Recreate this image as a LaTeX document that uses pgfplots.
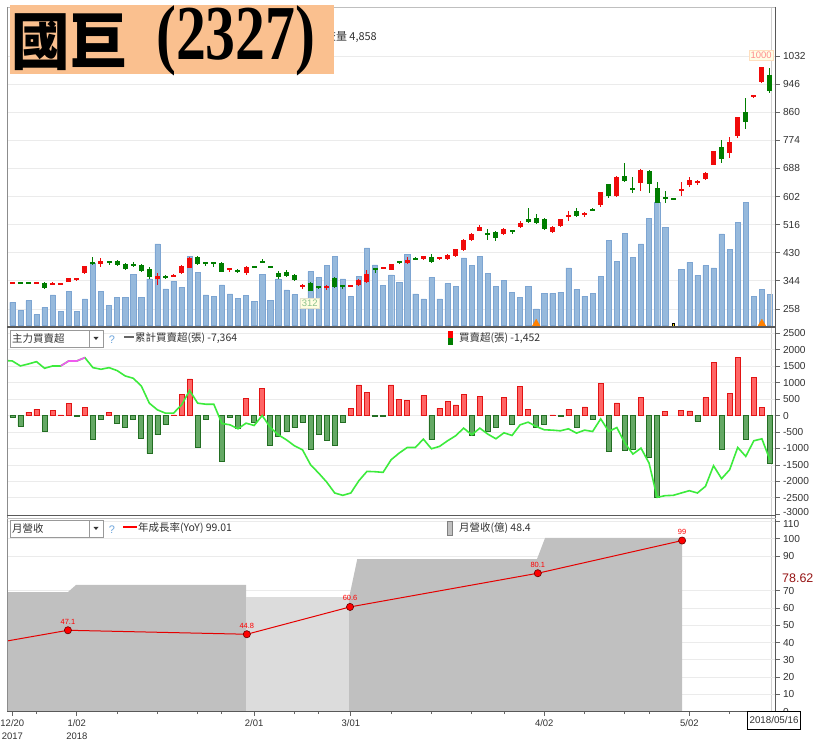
\documentclass[border=0pt]{standalone}
\usepackage{fontspec}
\setmainfont{Liberation Sans}
\newfontfamily\cjk{Noto Sans CJK TC}
\newfontfamily\serifb{Liberation Serif}
\usepackage{graphicx}
\usepackage{pgfplots}
\pgfplotsset{compat=1.18}
\usepackage{pgfplotstable}

\definecolor{upred}{RGB}{240,10,10}
\definecolor{dngreen}{RGB}{0,125,0}
\definecolor{volfill}{RGB}{150,185,220}
\definecolor{voldraw}{RGB}{125,165,210}
\definecolor{barred}{RGB}{255,85,85}
\definecolor{barredd}{RGB}{225,20,20}
\definecolor{bargreen}{RGB}{85,160,85}
\definecolor{bargreend}{RGB}{35,110,35}
\definecolor{cumgreen}{RGB}{60,235,60}
\definecolor{cumpink}{RGB}{240,90,240}
\definecolor{areadark}{RGB}{192,192,192}
\definecolor{arealight}{RGB}{220,220,220}
\definecolor{peach}{RGB}{250,192,143}
\definecolor{txt}{RGB}{50,50,50}
\definecolor{qblue}{RGB}{110,165,220}
\definecolor{darkred}{RGB}{150,20,20}

\pgfplotstableread{
i o h l c
0 337 341 334 339
3 337 340 335 338
5 334 342 333 336
6 334 337 331 337
7 341 353 340 352
8 350 352 343 352
9 369 389 365 389
11 395 413 386 405
18 350 367 331 359
20 358 366 355 362
21 367 392 364 390
22 384 418 382 413
27 380 382 372 382
29 367 391 362 388
36 326 333 319 330
39 324 331 316 327
42 326 330 325 329
43 331 349 329 347
44 342 376 336 364
46 381 384 380 383
47 377 397 376 395
49 400 418 396 408
51 410 421 408 420
53 410 418 409 417
54 412 426 408 424
55 420 443 418 441
56 438 471 436 469
57 469 489 466 487
58 498 514 496 510
61 488 505 484 503
63 508 527 505 522
67 495 513 491 510
68 513 534 508 532
69 541 558 527 545
71 546 556 540 550
73 576 616 571 615
75 604 664 602 663
78 645 685 620 683
83 620 648 605 624
84 637 661 632 653
85 643 653 637 648
86 655 677 653 673
87 700 742 698 741
89 734 785 721 770
90 788 847 780 845
92 909 913 904 912
93 952 1000 950 998
}\up

\pgfplotstableread{
i o h l c
1 339 340 335 337
2 339 341 336 338
4 338 340 320 322
10 401 418 393 399
12 403 404 394 400
13 405 408 390 394
14 396 398 378 380
15 394 402 386 392
16 392 395 370 375
17 380 385 350 355
19 358 362 350 356
23 416 420 394 396
24 399 403 390 397
25 399 403 387 397
26 398 401 370 372
28 376 380 369 373
30 389 391 385 387
31 403 410 398 401
32 388 391 384 386
33 369 375 351 356
34 370 378 356 358
35 362 364 345 347
37 339 341 312 314
38 327 329 320 325
40 352 356 322 324
41 329 331 319 326
45 381 384 368 379
48 402 405 395 400
50 412 416 410 411
52 418 425 400 403
59 489 503 469 486
60 493 496 466 474
62 497 501 488 495
64 533 566 520 523
65 537 548 519 522
66 533 537 500 503
70 558 566 538 543
72 562 567 558 560
74 639 642 597 604
76 665 704 648 650
77 627 663 612 623
79 680 683 614 640
80 627 646 582 583
81 598 619 583 596
82 594 594 594 594
88 755 775 704 718
91 860 905 808 831
94 974 996 920 926
}\dn

\pgfplotstableread{
i v
0 3580
1 2260
2 3840
3 1630
4 2790
5 4740
6 2110
7 5270
8 2110
9 4110
10 9740
11 5320
12 3060
13 4370
14 4370
15 7950
16 4370
17 7270
18 12800
19 5690
20 6950
21 5950
22 10850
23 8270
24 4740
25 4480
26 6320
27 4900
28 4210
29 4640
30 3690
31 7950
32 3850
33 7270
34 5530
35 4790
36 4000
37 8430
38 7480
39 9430
40 10850
41 7270
42 4480
43 7740
44 12170
45 9480
46 6210
47 7900
48 6690
49 11110
50 4900
51 4110
52 7530
53 4110
54 6530
55 6160
56 10590
57 9430
58 10850
59 8110
60 6160
61 7000
62 5160
63 4370
64 6160
65 2530
66 5050
67 5000
68 5210
69 9010
70 5640
71 4580
72 5000
73 7740
74 13320
75 10060
76 14490
77 10700
78 12800
79 16800
80 19330
81 15380
83 8800
84 9900
85 7850
86 9370
87 9010
88 14380
89 11960
90 16170
91 19380
92 4480
93 5640
94 4858
}\vol

\pgfplotsset{
  panel/.style={
    scale only axis, width=768.5bp, xmin=-0.66, xmax=94.69,
    axis line style={draw=none},
    tick align=outside, ytick pos=right, yticklabel pos=right,
    major tick length=4bp, minor tick length=2.5bp,
    tick style={draw=black!60, line width=0.8bp},
    ymajorgrids, grid style={draw=black!8, line width=0.8bp},
    tick label style={font=\fontsize{10.2}{12}\selectfont, text=txt},
    /pgf/number format/assume math mode=true,
    /pgf/number format/1000 sep={},
    xtick=\empty, anchor=south west,
  },
  wick/.style={draw=none, mark=none, forget plot,
    error bars/.cd, y dir=both, y explicit, error mark=none,
    error bar style={draw=#1, line width=1bp}},
  body/.style={draw=none, mark=none, forget plot,
    error bars/.cd, y dir=both, y explicit, error mark=none,
    error bar style={draw=#1, line width=5bp}},
}

\begin{document}
\begin{tikzpicture}[x=1bp,y=1bp]
\fill[white] (0bp,0bp) rectangle (820bp,741bp);
\clip (0bp,0bp) rectangle (820bp,741bp);

% ---------- top panel: price grid ----------
\begin{axis}[panel, at={(7bp,414bp)}, height=320bp, ymin=202.9, ymax=1182.1,
  ytick={258,344,...,1032}]
\addplot[draw=none] coordinates {(0,300)};
\end{axis}

% ---------- volume ----------
\begin{axis}[panel, at={(7bp,414bp)}, height=320bp, ymin=-316, ymax=50244, hide axis]
\addplot[ybar, bar shift=0pt, bar width=5.2bp, fill=volfill, draw=voldraw, line width=0.4bp]
  table[x=i, y=v] {\vol};
\addplot[only marks, mark=triangle*, mark size=4.5bp, mark options={fill=orange, draw=orange}]
  coordinates {(65,200) (93,200)};
\addplot[only marks, mark=square*, mark size=1.3bp, mark options={fill=yellow!80!orange, draw=none}]
  coordinates {(82,0)};
\end{axis}

\draw[black!18, line width=1bp] (771.7bp,734bp) -- (771.7bp,29.3bp);

% ---------- candles ----------
\begin{axis}[panel, at={(7bp,414bp)}, height=320bp, ymin=202.9, ymax=1182.1, hide axis]
\addplot[wick=upred] table[x=i, y expr={(\thisrow{h}+\thisrow{l})/2}, y error expr={(\thisrow{h}-\thisrow{l})/2}] {\up};
\addplot[body=upred] table[x=i, y expr={(\thisrow{o}+\thisrow{c})/2}, y error expr={max(abs(\thisrow{c}-\thisrow{o})/2,3)}] {\up};
\addplot[wick=dngreen] table[x=i, y expr={(\thisrow{h}+\thisrow{l})/2}, y error expr={(\thisrow{h}-\thisrow{l})/2}] {\dn};
\addplot[body=dngreen] table[x=i, y expr={(\thisrow{o}+\thisrow{c})/2}, y error expr={max(abs(\thisrow{c}-\thisrow{o})/2,3)}] {\dn};
\node[fill=yellow!10, draw=orange!25, text=red!45, font=\fontsize{9.5}{10}\selectfont, inner sep=1.6bp] at (axis cs:92.9,1035) {1000};
\node[fill=yellow!12, draw=yellow!30!gray!35, text=green!30!gray!70, font=\fontsize{9.5}{10}\selectfont, inner sep=1.6bp] at (axis cs:36.9,276) {312};
\end{axis}

% ---------- middle panel ----------
\begin{axis}[panel, at={(7bp,226.7bp)}, height=187.3bp, ymin=-3000, ymax=2688,
  ytick={-2500,-2000,...,2500},
  extra y ticks={-3000}, extra y tick style={yticklabel style={yshift=2bp}, grid=none}]
\addplot[ybar, bar shift=0pt, bar width=5bp, fill=barred, draw=barredd, line width=0.6bp, fill opacity=0.9]
coordinates {(2,101) (3,192) (5,162) (6,20) (7,374) (9,242) (12,91) (20,20) (21,646) (22,1111)
(29,525) (31,828) (42,222) (43,929) (44,707) (47,929) (48,495) (49,465) (51,606) (53,222)
(54,434) (55,323) (56,636) (58,586) (61,545) (63,879) (64,182) (67,20) (69,182) (71,263)
(73,980) (75,384) (78,556) (81,131) (83,162) (84,141) (86,545) (87,1606) (89,667) (90,1768)
(92,1162) (93,242)};
\addplot[ybar, bar shift=0pt, bar width=5bp, fill=bargreen, draw=bargreend, line width=0.6bp, fill opacity=0.9]
coordinates {(0,-40) (1,-313) (4,-475) (8,-10) (10,-717) (11,-121) (13,-242) (14,-343) (15,-121)
(16,-697) (17,-1160) (18,-585) (19,-272) (23,-960) (24,-121) (26,-1394) (27,-60) (28,-384)
(30,-202) (32,-919) (33,-636) (34,-485) (35,-364) (36,-192) (37,-1040) (38,-566) (39,-768)
(40,-919) (41,-202) (45,-30) (46,-30) (52,-737) (57,-586) (59,-485) (60,-364) (62,-263)
(65,-364) (66,-263) (68,-10) (70,-364) (72,-121) (74,-1091) (76,-1060) (77,-1030) (79,-1272)
(80,-2475) (85,-162) (88,-1040) (91,-737) (94,-1452)};
\addplot[cumgreen, line width=1.6bp] coordinates {
(-0.66,1666) (0,1656) (1,1505) (2,1566) (3,1636) (4,1434) (5,1505) (6,1505) (7,1656) (8,1656)
(9,1757) (10,1454) (11,1404) (12,1454) (13,1364) (14,1202) (15,1131) (16,899) (17,374) (18,172)
(19,71) (20,71) (21,323) (22,758) (23,374) (24,343) (25,343) (26,-242) (27,-283) (28,-404)
(29,-232) (30,-303) (31,0) (32,-360) (33,-586) (34,-737) (35,-919) (36,-1040) (37,-1495)
(38,-1747) (39,-2020) (40,-2353) (41,-2424) (42,-2353) (43,-1980) (44,-1697) (45,-1707)
(46,-1727) (47,-1343) (48,-1141) (49,-970) (50,-970) (51,-717) (52,-1010) (53,-939) (54,-768)
(55,-616) (56,-384) (57,-586) (58,-384) (59,-566) (60,-707) (61,-525) (62,-606) (63,-283)
(64,-202) (65,-333) (66,-434) (67,-444) (68,-465) (69,-404) (70,-535) (71,-444) (72,-485)
(73,-101) (74,-485) (75,-364) (76,-838) (77,-1172) (78,-990) (79,-1444) (80,-2485) (81,-2434)
(82,-2424) (83,-2353) (84,-2283) (85,-2353) (86,-2151) (87,-1525) (88,-1919) (89,-1646)
(90,-970) (91,-1242) (92,-768) (93,-707) (94,-1350)};
\addplot[cumpink, line width=1.6bp] coordinates {(6,1505) (7,1656) (8,1656) (9,1757)};
\end{axis}

% ---------- bottom panel ----------
\begin{axis}[panel, at={(7bp,29.3bp)}, height=195.7bp, ymin=0, ymax=113.2,
  ytick={0,10,20,30,40,50,60,70,90,100},
  extra y ticks={110}, extra y tick style={yticklabel style={yshift=-2bp}},
  xtick={0,8,30,42,66,84},
  xticklabels={{12/20\\2017},{1/02\\2018},{2/01},{3/01},{4/02},{5/02}},
  xticklabel style={align=center, font=\fontsize{9.5}{13.5}\selectfont, text=txt},
  xtick pos=left, xticklabel pos=left,
  minor xtick={3,13,18,23,26,35,38,47,52,57,61,71,76,79,89}]
\addplot[fill=areadark, draw=none] coordinates {(-0.66,69.2) (6.9,69.2) (7.9,73.3) (29.0,73.3)} \closedcycle;
\addplot[fill=arealight, draw=none] coordinates {(29.0,66.3) (41.8,66.3)} \closedcycle;
\addplot[fill=areadark, draw=none] coordinates {(41.8,66.3) (42.8,88.3) (65.1,88.3) (66.1,100.5) (83.1,100.5)} \closedcycle;
\addplot[red!90!black, line width=1bp] coordinates {(-0.66,40.9) (6.9,47.1) (29.1,44.8) (41.9,60.6) (65.2,80.1) (83.1,99.0)};
\addplot[only marks, mark=*, mark size=3.6bp,
  mark options={fill=red, draw=red!40!black, line width=0.6bp},
  nodes near coords, point meta=explicit symbolic,
  every node near coord/.append style={font=\fontsize{7.5}{8}\selectfont, text=red, anchor=south, yshift=2.5bp}]
  table[meta=lab] {
x y lab
6.9 47.1 47.1
29.1 44.8 44.8
41.9 60.6 60.6
65.2 80.1 80.1
83.1 99.0 99
};
\end{axis}

% ---------- frame lines ----------
\draw[black!25, line width=0.8bp] (7bp,734bp) -- (776bp,734bp);
\draw[black!45, line width=1bp] (7bp,734bp) -- (7bp,29.3bp);
\draw[black!65, line width=1.3bp] (775.5bp,734bp) -- (775.5bp,29.3bp);
\draw[black!65, line width=1.5bp] (7bp,414bp) -- (776bp,414bp);
\draw[black!65, line width=1.5bp] (7bp,225.5bp) -- (776bp,225.5bp);
\draw[black!25, line width=0.8bp] (7bp,222.5bp) -- (776bp,222.5bp);
\draw[black!65, line width=1.3bp] (7bp,29.3bp) -- (780bp,29.3bp);

% ---------- middle legend ----------
\draw[black!40, fill=white] (10bp,411bp) rectangle (103bp,394bp);
\draw[black!40] (89bp,411bp) -- (89bp,394bp);
\fill[black!80] (93.5bp,404bp) -- (98.5bp,404bp) -- (96bp,401bp) -- cycle;
\node[anchor=west, inner sep=0, text=txt, font=\cjk\fontsize{10.5}{11}\selectfont] at (12bp,402.5bp) {主力買賣超};
\node[text=qblue, font=\fontsize{11}{11}\selectfont] at (112bp,401bp) {?};
\draw[black!60, line width=1.2bp] (124bp,404bp) -- (134bp,404bp);
\node[anchor=west, inner sep=0, text=txt, font=\cjk\fontsize{10.5}{11}\selectfont] at (135bp,403bp) {累計買賣超(張) -7,364};
\fill[red] (448bp,410bp) rectangle (453bp,403bp);
\fill[dngreen] (448bp,403bp) rectangle (453bp,396bp);
\node[anchor=west, inner sep=0, text=txt, font=\cjk\fontsize{10.5}{11}\selectfont] at (459bp,403bp) {買賣超(張) -1,452};

% ---------- bottom legend ----------
\draw[black!40, fill=white] (10bp,221bp) rectangle (103bp,204bp);
\draw[black!40] (89bp,221bp) -- (89bp,204bp);
\fill[black!80] (93.5bp,214bp) -- (98.5bp,214bp) -- (96bp,211bp) -- cycle;
\node[anchor=west, inner sep=0, text=txt, font=\cjk\fontsize{10.5}{11}\selectfont] at (12bp,212.5bp) {月營收};
\node[text=qblue, font=\fontsize{11}{11}\selectfont] at (112bp,211bp) {?};
\draw[red, line width=2bp] (123bp,214bp) -- (137bp,214bp);
\node[anchor=west, inner sep=0, text=txt, font=\cjk\fontsize{10.5}{11}\selectfont] at (138bp,213bp) {年成長率(YoY) 99.01};
\draw[black!50, fill=areadark] (447bp,220bp) rectangle (452bp,206bp);
\node[anchor=west, inner sep=0, text=txt, font=\cjk\fontsize{10.5}{11}\selectfont] at (459bp,213bp) {月營收(億) 48.4};

\node[anchor=west, inner sep=0.5bp, fill=white, text=darkred, font=\fontsize{12.5}{13}\selectfont] at (781.5bp,163bp) {78.62};
\node[draw=black, fill=white, line width=0.9bp, inner sep=2.5bp, minimum height=18bp, text=txt,
  font=\fontsize{9.8}{11}\selectfont] at (774bp,20.5bp) {2018/05/16};

% ---------- title ----------
\node[anchor=east, inner sep=0, text=txt, font=\cjk\fontsize{11}{12}\selectfont] at (377bp,704bp) {成交量 4,858};
\fill[peach] (10bp,736bp) rectangle (334bp,667bp);
\node[anchor=west, inner sep=0] at (11bp,699bp) {\scalebox{1.03}[1.1]{\cjk\bfseries\fontsize{57}{57}\selectfont 國巨}};
\node[anchor=west, inner sep=0] at (156bp,700bp) {\scalebox{1}[1.3]{\serifb\bfseries\fontsize{60}{60}\selectfont (2327)}};
\end{tikzpicture}
\end{document}
